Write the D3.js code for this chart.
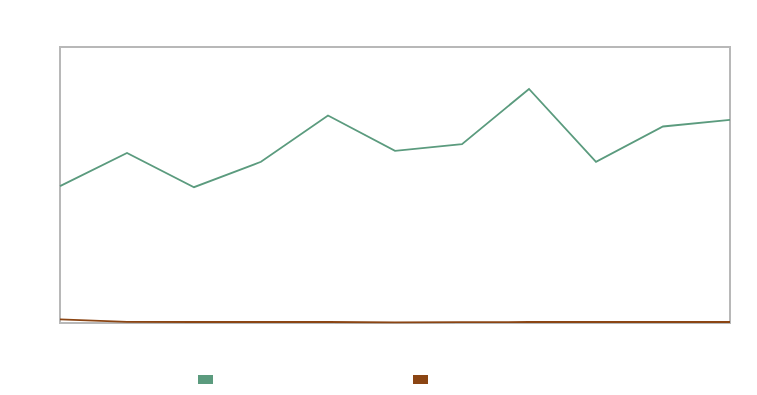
<!DOCTYPE html>
<html>
<head>
<meta charset="utf-8">
<script src="https://cdn.jsdelivr.net/npm/d3@7"></script>
<style>
  body { margin: 0; background: #fff; }
  svg { display: block; font-family: "Liberation Sans", Arial, sans-serif; }
</style>
</head>
<body>
<svg id="chart"></svg>
<script>
'use strict';

// data
const categories = ['1', '2', '3', '4', '5', '6', '7', '8', '9', '10', '11'];
const seriesA = [124, 154, 123, 146, 188, 156, 162, 212, 146, 178, 184];
const seriesB = [3.2, 1.0, 0.9, 0.9, 0.9, 0.6, 0.8, 0.9, 0.9, 0.9, 0.9];
const seriesNames = ['', ''];
const colors = ['#5b9b7e', '#8b4513'];

const W = 757, H = 395;
const margin = { top: 47, right: 27, bottom: 72, left: 60 };
const width = W - margin.left - margin.right;
const height = H - margin.top - margin.bottom;

const svg = d3.select('#chart').attr('width', W).attr('height', H);
const g = svg.append('g').attr('transform', 'translate(' + margin.left + ',' + margin.top + ')');

const x = d3.scalePoint().domain(categories).range([0, width]);
const y = d3.scaleLinear().domain([0, 250]).range([height, 0]);

// frame
g.append('rect')
    .attr('width', width)
    .attr('height', height)
    .attr('fill', 'none')
    .attr('stroke', '#b8b8b8')
    .attr('stroke-width', 2);

const line = d3.line()
    .x(function(d, i) { return x(categories[i]); })
    .y(function(d) { return y(d); });

[seriesA, seriesB].forEach(function(s, k) {
    g.append('path')
        .datum(s)
        .attr('d', line)
        .attr('fill', 'none')
        .attr('stroke', colors[k])
        .attr('stroke-width', 1.8);
});

// legend (swatches only)
const legendX = [198, 413];
seriesNames.forEach(function(name, k) {
    const lg = svg.append('g').attr('transform', 'translate(' + legendX[k] + ',375)');
    lg.append('rect').attr('width', 15).attr('height', 9).attr('fill', colors[k]);
    lg.append('text').attr('x', 20).attr('y', 8).attr('font-size', 11).text(name);
});
</script>
</body>
</html>
